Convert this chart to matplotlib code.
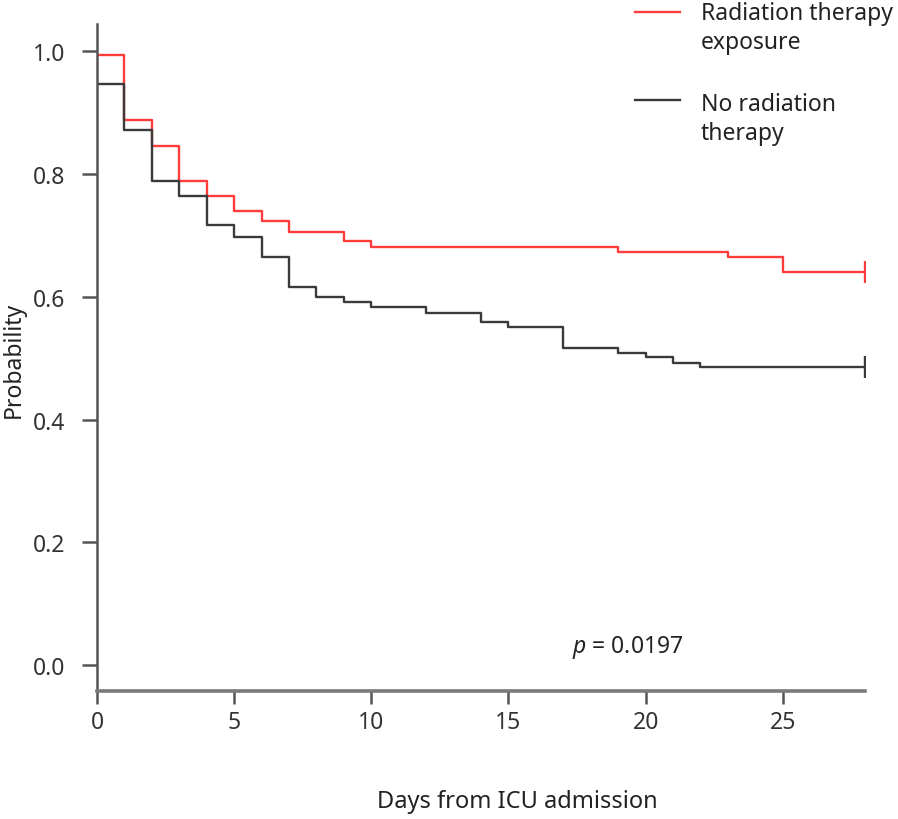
import matplotlib
matplotlib.use('Agg')
import matplotlib.pyplot as plt
from matplotlib.lines import Line2D

plt.rcParams['font.family'] = ['Noto Sans', 'DejaVu Sans']
plt.rcParams['mathtext.fontset'] = 'custom'
plt.rcParams['mathtext.it'] = 'Noto Sans:italic'
plt.rcParams['mathtext.rm'] = 'Noto Sans'

# Kaplan-Meier step data
rt_days = [0, 1, 2, 3, 4, 5, 6, 7, 9, 10, 19, 23, 25, 28]
rt_surv = [0.993, 0.888, 0.846, 0.788, 0.764, 0.739, 0.723, 0.706, 0.691,
           0.681, 0.673, 0.665, 0.640, 0.640]
no_days = [0, 1, 2, 3, 4, 5, 6, 7, 8, 9, 10, 12, 14, 15, 17, 19, 20, 21, 22, 28]
no_surv = [0.946, 0.871, 0.788, 0.764, 0.716, 0.698, 0.664, 0.616, 0.600,
           0.592, 0.583, 0.574, 0.558, 0.551, 0.517, 0.509, 0.502, 0.492,
           0.486, 0.486]
x_ticks = [0, 5, 10, 15, 20, 25]
y_ticks = [0.0, 0.2, 0.4, 0.6, 0.8, 1.0]
labels = ['Radiation therapy\nexposure', 'No radiation\ntherapy']
red = '#ff3c3c'
dark = '#3a3a3a'
FS = 16.5

W, H = 898, 820
fig = plt.figure(figsize=(W / 100, H / 100), dpi=100)
ax = fig.add_axes([97 / W, (H - 692) / H, (865 - 97) / W, (692 - 25) / H])

ax.step(rt_days, rt_surv, where='post', color=red, lw=1.7)
ax.step(no_days, no_surv, where='post', color=dark, lw=1.7)
# censor marks at end of follow-up
ax.plot(rt_days[-1], rt_surv[-1], marker='|', ms=16, mew=1.7, color=red)
ax.plot(no_days[-1], no_surv[-1], marker='|', ms=16, mew=1.7, color=dark)

ax.set_xlim(0, 28)
ax.set_ylim(-0.042, 1.044)
ax.set_xticks(x_ticks)
ax.set_yticks(y_ticks)
ax.set_yticklabels(['%.1f' % v for v in y_ticks])

for s in ['top', 'right']:
    ax.spines[s].set_visible(False)
ax.spines['left'].set_color('#555555')
ax.spines['left'].set_linewidth(1.8)
ax.spines['bottom'].set_color('#7a7a7a')
ax.spines['bottom'].set_linewidth(2.6)

ax.tick_params(axis='y', length=11, width=1.8, color='#555555', pad=11.5,
               labelsize=FS, labelcolor='#333333')
ax.tick_params(axis='x', length=9.5, width=1.8, color='#555555', pad=4,
               labelsize=FS, labelcolor='#333333')

ax.text(17.3, 0.031, r'$p$ = 0.0197', fontsize=FS, color='#222222', va='center')

fig.text(517 / W, 1 - 802 / H, 'Days from ICU admission', fontsize=FS + 0.5,
         color='#222222', ha='center', va='center')
fig.text(14 / W, 1 - 360 / H, 'Probability', fontsize=FS, color='#222222',
         rotation=90, ha='center', va='center')

# legend drawn by hand at top right
for (yl, base, lab, c) in [(13, 20, labels[0], red), (101, 111, labels[1], dark)]:
    fig.add_artist(Line2D([635 / W, 680 / W], [1 - yl / H, 1 - yl / H],
                          color=c, lw=1.7, transform=fig.transFigure))
    for i, line in enumerate(lab.split('\n')):
        fig.text(701 / W, 1 - (base + 29 * i) / H, line, fontsize=FS,
                 color='#222222', ha='left', va='baseline')

fig.savefig('out.png', dpi=100)
